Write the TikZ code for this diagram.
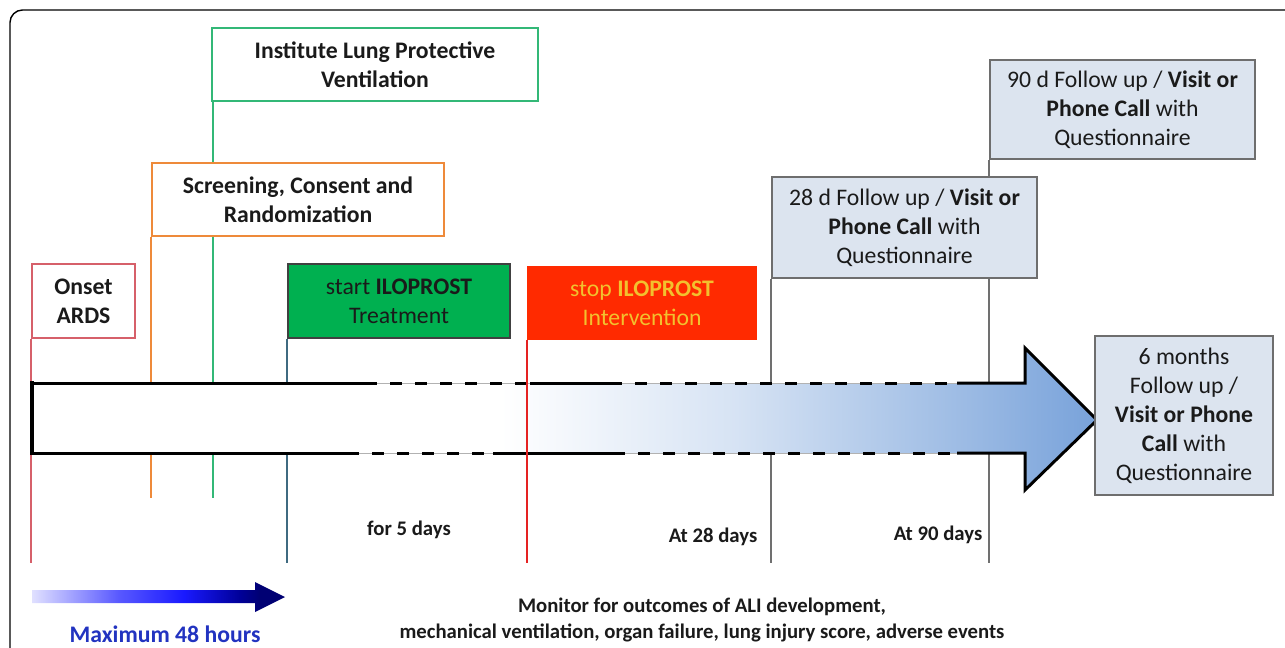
\documentclass[tikz,border=0pt]{standalone}
\usepackage{fontspec}
\setmainfont{Carlito}
\usetikzlibrary{positioning}

\definecolor{textblack}{HTML}{1A1A1A}
\definecolor{onsetred}{HTML}{D6606A}
\definecolor{screenorange}{HTML}{EE8A3A}
\definecolor{lpvgreen}{HTML}{33B877}
\definecolor{startgreen}{HTML}{00B050}
\definecolor{startline}{HTML}{3F6A80}
\definecolor{stopred}{HTML}{FF2A00}
\definecolor{stopline}{HTML}{E52222}
\definecolor{stoptext}{HTML}{F2C12E}
\definecolor{fublue}{HTML}{DCE4EF}
\definecolor{fugray}{HTML}{6E6E6E}
\definecolor{linegray}{HTML}{707070}
\definecolor{arrowblue}{HTML}{78A2DA}
\definecolor{maxblue}{HTML}{2233C0}

\newcommand{\boxfont}{\fontsize{13.5}{16.5}\selectfont}
\newcommand{\lblfont}{\fontsize{11.8}{14.5}\selectfont}

\pgfdeclarehorizontalshading{armfade}{100bp}{color(0bp)=(white); color(25bp)=(white); color(47bp)=(white); color(58bp)=(arrowblue!30); color(68bp)=(arrowblue!70); color(75bp)=(arrowblue); color(100bp)=(arrowblue)}
\pgfdeclarehorizontalshading{maxfade}{100bp}{color(0bp)=(blue!12); color(25bp)=(blue!12); color(42bp)=(blue!65); color(55bp)=(blue!90); color(66bp)=(blue!60!black); color(70bp)=(blue!45!black); color(100bp)=(blue!45!black)}

\tikzset{
  box/.style={draw,line width=1.1pt,fill=white,align=center,inner sep=0pt,font=\boxfont,text=textblack},
  fubox/.style={box,draw=fugray,fill=fublue},
  vline/.style={line width=1.1pt},
  outline/.style={line width=1.7pt,line join=miter},
  dashline/.style={outline,dash pattern=on 2.4mm off 2.6mm},
  lbl/.style={font=\lblfont\bfseries,text=textblack,align=center}
}

\begin{document}
\begin{tikzpicture}[x=0.2mm,y=-0.2mm]
  \useasboundingbox (0,0) rectangle (1285,647);
  \draw[line width=0.8pt,rounded corners=2.5mm] (10,700) -- (10,10) -- (1320,10);

  \node[box,draw=lpvgreen,minimum width=65.2mm,minimum height=14.6mm] (lpv) at (375,64.5) {\textbf{Institute Lung Protective}\\\textbf{Ventilation}};
  \node[box,draw=screenorange,minimum width=58.4mm,minimum height=14.6mm] (screen) at (298,199.5) {\textbf{Screening, Consent and}\\\textbf{Randomization}};
  \node[box,draw=onsetred,minimum width=20.6mm,minimum height=14.8mm] (onset) at (83.5,301) {\textbf{Onset}\\\textbf{ARDS}};
  \node[box,draw=black!75,fill=startgreen,minimum width=44.4mm,minimum height=14.8mm] (start) at (399,301) {start \textbf{ILOPROST}\\Treatment};
  \node[box,draw=stopred,fill=stopred,text=stoptext,minimum width=45.6mm,minimum height=14.4mm] (stop) at (642,303) {stop \textbf{ILOPROST}\\Intervention};
  \node[fubox,minimum width=53mm,minimum height=20.2mm] (fu28) at (904.5,227.5) {28 d Follow up / \textbf{Visit or}\\\textbf{Phone Call} with\\Questionnaire};
  \node[fubox,minimum width=53mm,minimum height=19.8mm] (fu90) at (1122.5,109.5) {90 d Follow up / \textbf{Visit or}\\\textbf{Phone Call} with\\Questionnaire};

  \coordinate (tickend) at (0,563);
  \coordinate (shortend) at (0,498);

  \draw[vline,onsetred] (onset.south west) -- (onset.south west |- tickend);
  \draw[vline,screenorange] (screen.south west) -- (screen.south west |- shortend);
  \draw[vline,lpvgreen] ([xshift=0.4mm]lpv.south west) -- ([xshift=0.4mm]lpv.south west |- screen.north);
  \draw[vline,lpvgreen] ([xshift=0.4mm]lpv.south west |- screen.south) -- ([xshift=0.4mm]lpv.south west |- shortend);
  \draw[vline,startline] (start.south west) -- (start.south west |- tickend);
  \draw[vline,linegray] (fu28.south west) -- (fu28.south west |- tickend);
  \draw[vline,linegray] (fu90.south west) -- (fu90.south west |- fu28.north);
  \draw[vline,linegray] (fu90.south west |- fu28.south) -- (fu90.south west |- tickend);

  \shade[shading=armfade] (32,383) -- (1025,383) -- (1025,348) -- (1097,420) -- (1025,490) -- (1025,453) -- (32,453) -- cycle;
  \draw[gray!60,line width=0.4pt] (32,383) -- (1025,383) (32,453) -- (1025,453);
  \draw[line width=2.3pt] (32,381) -- (32,455);
  \draw[outline] (365,383) -- (32,383) (32,453) -- (347,453);
  \draw[dashline] (365,383) -- (530,383) (347,453) -- (493,453);
  \draw[outline] (530,383) -- (610,383) (493,453) -- (613,453);
  \draw[dashline] (610,383) -- (957,383) (613,453) -- (957,453);
  \draw[outline] (957,383) -- (1025,383) -- (1025,348) -- (1097,420) -- (1025,490) -- (1025,453) -- (957,453);

  \draw[vline,stopline] (stop.south west) -- (stop.south west |- tickend);

  \node[fubox,minimum width=35.6mm,minimum height=31.8mm] (fu6m) at (1184,415.5) {6 months\\Follow up /\\\textbf{Visit or Phone}\\\textbf{Call} with\\Questionnaire};

  \node[lbl] (days5) at (409,530) {for 5 days};
  \node[lbl] (days28) at (713,537) {At 28 days};
  \node[lbl] (days90) at (938,535) {At 90 days};
  \node[lbl] (monitor) at (702,620) {Monitor for outcomes of ALI development,\\mechanical ventilation, organ failure, lung injury score, adverse events};

  \shade[shading=maxfade] (32,590) -- (255,590) -- (255,582) -- (285,597) -- (255,612) -- (255,603) -- (32,603) -- cycle;
  \node[font=\boxfont\bfseries,text=maxblue] (maxhours) at (165,634) {Maximum 48 hours};
\end{tikzpicture}
\end{document}
